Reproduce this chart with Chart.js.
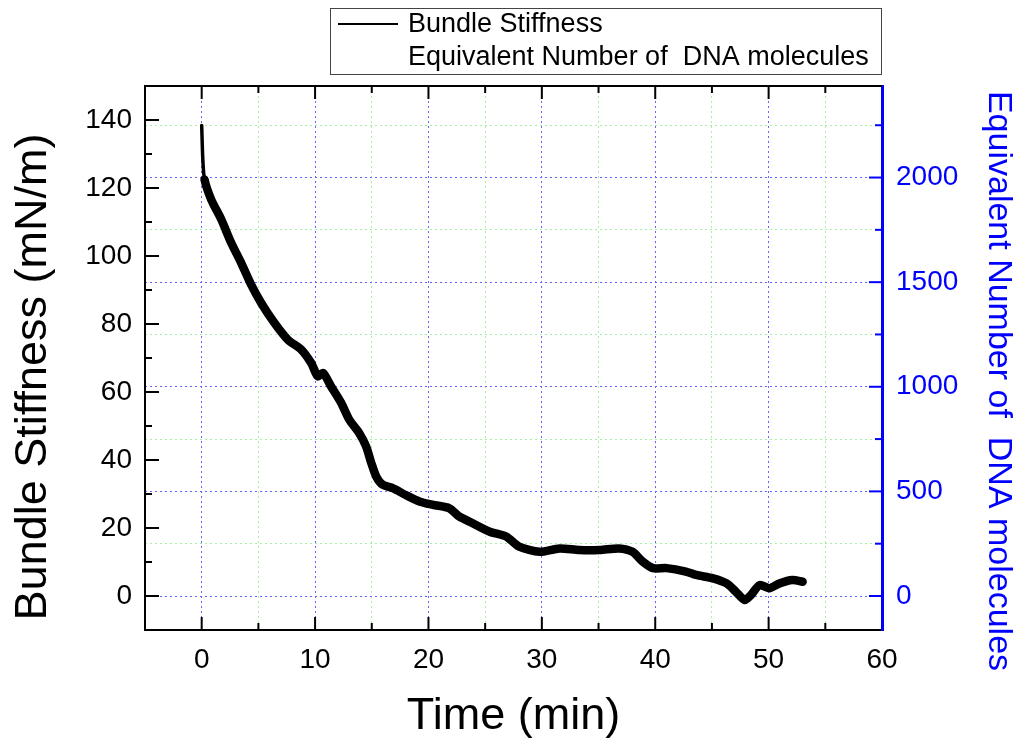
<!DOCTYPE html>
<html>
<head>
<meta charset="utf-8">
<script src="https://cdn.jsdelivr.net/npm/chart.js@4.4.1/dist/chart.umd.min.js"></script>
<style>
  body { margin: 0; background: #fff; }
  #wrap { width: 1019px; height: 747px; }
</style>
</head>
<body>
<div id="wrap"><canvas id="stiffness-chart" width="1019" height="747"></canvas></div>
<script>
// time in minutes and bundle stiffness in mN/m
const timeMin = [0, 0.1, 0.25, 0.84, 1.72, 2.6, 3.48, 4.36, 5.25, 6.42, 7.6, 8.77, 9.66, 10.24, 10.7, 11.4,
  12.3, 13.03, 13.9, 14.5, 14.96, 15.4, 15.97, 16.85, 18.0, 19.2, 20.4, 21.85, 22.7, 23.9, 25.4, 26.85,
  28.0, 29.8, 31.55, 33.3, 35.1, 36.8, 38.0, 38.9, 39.8, 41.0, 42.7, 43.6, 45.1, 46.3, 47.1, 47.9,
  48.45, 49.2, 50.1, 50.95, 52.1, 53.0];
const stiffness = [138.4, 128.4, 122.5, 116.6, 110.8, 103.9, 98, 91.6, 86.2, 80.3, 75.4, 72.5, 68.5, 64.6, 65.6, 61.7,
  56.8, 51.8, 47.9, 44, 39.1, 35.1, 32.7, 31.7, 29.7, 27.8, 26.8, 25.8, 23.4, 21.4, 18.9, 17.5,
  14.5, 13.0, 14.0, 13.5, 13.5, 14.0, 13.0, 10.1, 8.2, 8.2, 7.2, 6.2, 5.2, 3.7, 1.3, -1.2,
  0.3, 3.2, 2.3, 3.7, 4.7, 4.2];

const seriesNames = ['Bundle Stiffness', 'Equivalent Number of  DNA molecules'];
const xTitle = 'Time (min)';
const yTitle = 'Bundle Stiffness (mN/m)';
const y1Title = 'Equivalent Number of  DNA molecules';

// axis ranges and tick steps
const xRange = [-5, 60];
const yRange = [-10, 150];
const y1Range = [-162.5, 2437.5];
const y1Ticks = [0, 250, 500, 750, 1000, 1250, 1500, 1750, 2000, 2250];

const FONT = "'Liberation Sans', Arial, sans-serif";
const BLUE = '#0000ff';
const GRID_BLUE = '#6464ff';
const GRID_GREEN = '#a6f0a6';

const points = timeMin.map((t, i) => ({ x: t, y: stiffness[i] }));

function line(ctx, x1, y1, x2, y2) {
  ctx.beginPath();
  ctx.moveTo(x1, y1);
  ctx.lineTo(x2, y2);
  ctx.stroke();
}

// frame, inward ticks, legend box and axis titles
const decorations = {
  id: 'decorations',
  afterDraw(chart) {
    const { ctx, chartArea: a, scales } = chart;
    ctx.save();
    ctx.lineCap = 'butt';

    // top frame line
    ctx.strokeStyle = '#000';
    ctx.lineWidth = 2;
    line(ctx, a.left - 1, a.top, a.right, a.top);

    // x ticks (bottom and top), pointing inwards
    scales.x.ticks.forEach(t => {
      const px = scales.x.getPixelForValue(t.value);
      if (px <= a.left + 1 || px >= a.right - 1) return;
      const len = t.value % 10 === 0 ? 13 : 7;
      line(ctx, px, a.bottom, px, a.bottom - len);
      line(ctx, px, a.top, px, a.top + len);
    });

    // left ticks
    scales.y.ticks.forEach(t => {
      const py = scales.y.getPixelForValue(t.value);
      if (py <= a.top + 1 || py >= a.bottom - 1) return;
      const len = t.value % 20 === 0 ? 14 : 7;
      line(ctx, a.left, py, a.left + len, py);
    });

    // right ticks
    ctx.strokeStyle = BLUE;
    scales.y1.ticks.forEach(t => {
      const py = scales.y1.getPixelForValue(t.value);
      if (py <= a.top + 1 || py >= a.bottom - 1) return;
      const len = t.value % 500 === 0 ? 13 : 7;
      line(ctx, a.right, py, a.right - len, py);
    });

    // legend
    ctx.strokeStyle = '#444';
    ctx.lineWidth = 1;
    ctx.strokeRect(330.5, 8.5, 551, 66);
    ctx.strokeStyle = '#000';
    ctx.lineWidth = 2;
    line(ctx, 338, 24, 398, 24);
    ctx.fillStyle = '#000';
    ctx.font = '27px ' + FONT;
    ctx.textAlign = 'left';
    ctx.textBaseline = 'middle';
    const ds = chart.data.datasets;
    ctx.fillText(ds[0].label, 408, 25);
    ctx.fillText(ds[1].label, 408, 58);

    // axis titles
    ctx.textAlign = 'center';
    ctx.font = '45px ' + FONT;
    ctx.fillText(xTitle, (a.left + a.right) / 2, 717);

    ctx.save();
    ctx.translate(34, 377);
    ctx.rotate(-Math.PI / 2);
    ctx.fillText(yTitle, 0, 0);
    ctx.restore();

    ctx.save();
    ctx.translate(998, 381);
    ctx.rotate(Math.PI / 2);
    ctx.fillStyle = BLUE;
    ctx.font = '34px ' + FONT;
    ctx.fillText(y1Title, 0, 0);
    ctx.restore();

    ctx.restore();
  }
};

new Chart(document.getElementById('stiffness-chart'), {
  type: 'line',
  data: {
    datasets: [{
      label: seriesNames[0],
      data: points,
      xAxisID: 'x',
      yAxisID: 'y',
      borderColor: '#000',
      borderWidth: 8.5,
      pointRadius: 0,
      tension: 0.25,
      borderJoinStyle: 'round',
      borderCapStyle: 'round',
      segment: {
        borderWidth: c => (c.p0DataIndex < 2 ? 3.5 : 8.5)
      }
    }, {
      label: seriesNames[1],
      data: [],
      xAxisID: 'x',
      yAxisID: 'y1',
      borderColor: 'rgba(0,0,0,0)',
      pointRadius: 0
    }]
  },
  options: {
    responsive: false,
    animation: false,
    events: [],
    layout: { padding: { top: 86, left: 0, right: 0, bottom: 0 } },
    plugins: {
      legend: { display: false },
      tooltip: { enabled: false }
    },
    scales: {
      x: {
        type: 'linear',
        position: 'bottom',
        min: xRange[0],
        max: xRange[1],
        afterFit: s => { s.height = 117; },
        ticks: {
          stepSize: 5,
          padding: 13,
          maxRotation: 0,
          autoSkip: false,
          color: '#000',
          font: { family: FONT, size: 28 },
          callback: v => (v % 10 === 0 && v >= 0 ? v : '')
        },
        grid: {
          drawTicks: false,
          lineWidth: 1,
          color: c => {
            const v = c.tick.value;
            if (v <= xRange[0] || v >= xRange[1]) return 'rgba(0,0,0,0)';
            return v % 10 === 0 ? GRID_BLUE : GRID_GREEN;
          }
        },
        border: { color: '#000', width: 2, dash: [2, 3] }
      },
      y: {
        type: 'linear',
        position: 'left',
        min: yRange[0],
        max: yRange[1],
        afterFit: s => { s.width = 145; },
        ticks: {
          stepSize: 10,
          padding: 13,
          autoSkip: false,
          color: '#000',
          font: { family: FONT, size: 28 },
          callback: v => (v % 20 === 0 && v >= 0 && v <= 140 ? v : '')
        },
        grid: { drawOnChartArea: false, drawTicks: false },
        border: { color: '#000', width: 2 }
      },
      y1: {
        type: 'linear',
        position: 'right',
        min: y1Range[0],
        max: y1Range[1],
        afterFit: s => { s.width = 137; },
        afterBuildTicks: s => { s.ticks = y1Ticks.map(v => ({ value: v })); },
        ticks: {
          padding: 14,
          autoSkip: false,
          color: BLUE,
          font: { family: FONT, size: 28 },
          callback: v => (v % 500 === 0 ? v : '')
        },
        grid: {
          drawTicks: false,
          lineWidth: 1,
          color: c => (c.tick.value % 500 === 0 ? GRID_BLUE : GRID_GREEN)
        },
        border: { color: BLUE, width: 3, dash: [2, 3] }
      }
    }
  },
  plugins: [decorations]
});
</script>
</body>
</html>
